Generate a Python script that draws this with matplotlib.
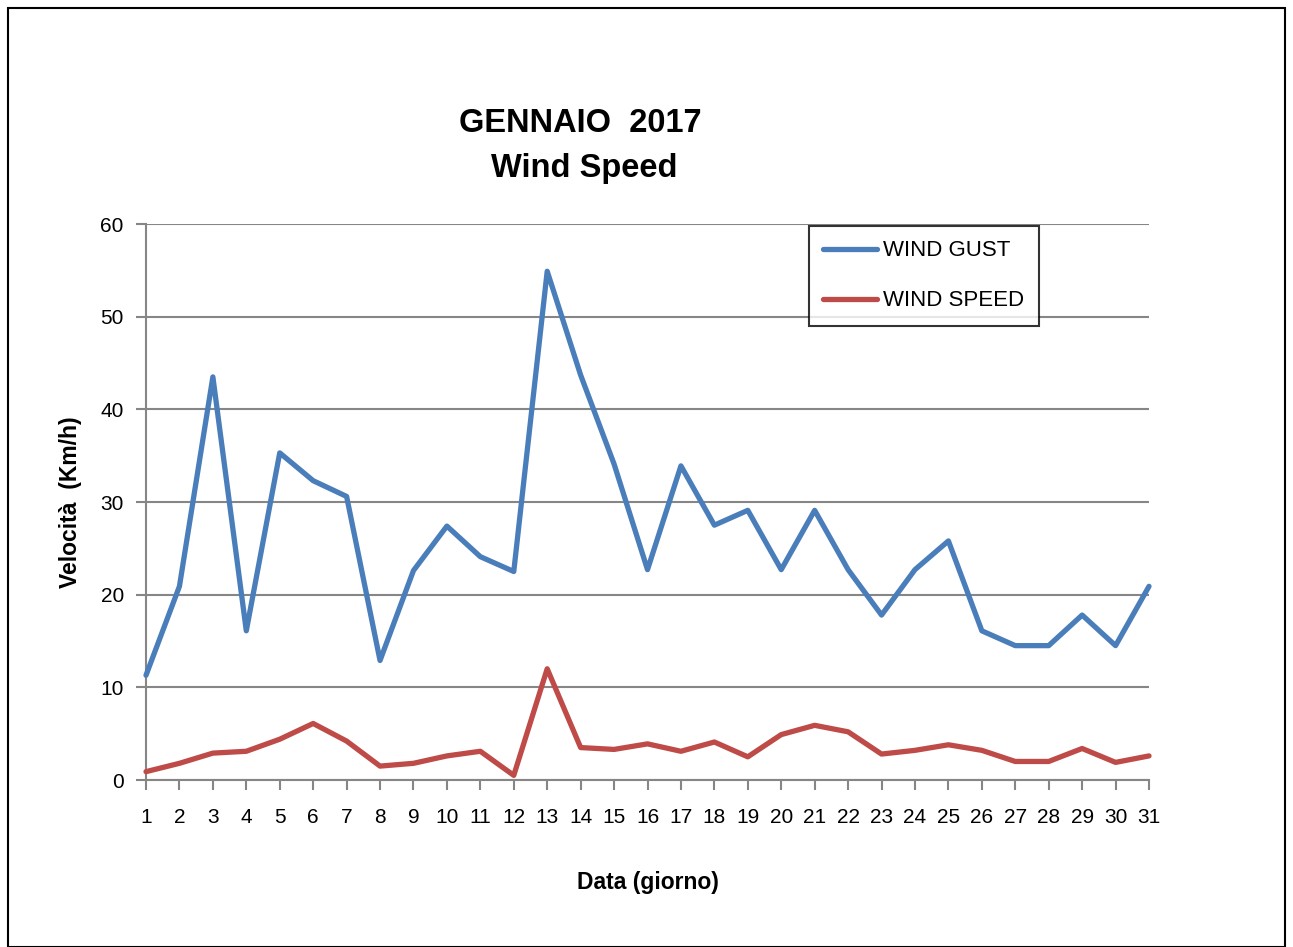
import matplotlib.pyplot as plt
import numpy as np
from matplotlib.patches import Rectangle

# dati gennaio 2017
giorni = np.arange(1, 32)
wind_gust = [11.3, 20.9, 43.5, 16.1, 35.3, 32.3, 30.6, 12.9, 22.6, 27.4,
             24.1, 22.5, 54.9, 43.7, 34.1, 22.7, 33.9, 27.5, 29.1, 22.7,
             29.1, 22.7, 17.8, 22.7, 25.8, 16.1, 14.5, 14.5, 17.8, 14.5, 20.9]
wind_speed = [0.9, 1.8, 2.9, 3.1, 4.4, 6.1, 4.2, 1.5, 1.8, 2.6,
              3.1, 0.5, 12.0, 3.5, 3.3, 3.9, 3.1, 4.1, 2.5, 4.9,
              5.9, 5.2, 2.8, 3.2, 3.8, 3.2, 2.0, 2.0, 3.4, 1.9, 2.6]
y_ticks = [0, 10, 20, 30, 40, 50, 60]

plt.rcParams['font.family'] = ['Liberation Sans', 'DejaVu Sans']

fig = plt.figure(figsize=(12.93, 9.47), dpi=100)
ax = fig.add_axes([146/1293, 1-780/947, 1003/1293, 556/947])

ax.plot(giorni, wind_gust, color='#4A7EBB', lw=3.8, label='WIND GUST',
        solid_joinstyle='round', solid_capstyle='round', clip_on=False, zorder=3)
ax.plot(giorni, wind_speed, color='#BE4B48', lw=3.8, label='WIND SPEED',
        solid_joinstyle='round', solid_capstyle='round', clip_on=False, zorder=3)

ax.set_xlim(1, 31)
ax.set_ylim(0, 60)
ax.set_xticks(giorni)
ax.set_yticks(y_ticks)
ax.grid(axis='y', color='#868686', lw=1.5)
ax.set_axisbelow(True)
for s in ['top', 'right']:
    ax.spines[s].set_visible(False)
for s in ['left', 'bottom']:
    ax.spines[s].set_color('#868686')
    ax.spines[s].set_linewidth(1.5)
ax.tick_params(axis='both', direction='out', length=7, width=1.5,
               color='#868686', labelsize=15)
ax.tick_params(axis='x', pad=13)
ax.tick_params(axis='y', pad=9)

ax.set_xlabel('Data (giorno)', fontsize=16.5, fontweight='bold', labelpad=32)
ax.set_ylabel('Velocità  (Km/h)', fontsize=16.5, fontweight='bold', labelpad=13)

fig.text(580/1293, 1-123/947, 'GENNAIO  2017', ha='center', va='center',
         fontsize=23.5, fontweight='bold')
fig.text(584/1293, 1-168/947, 'Wind Speed', ha='center', va='center',
         fontsize=23.5, fontweight='bold')

leg = ax.legend(loc='upper left', bbox_to_anchor=(809/1293, 1-226/947),
                bbox_transform=fig.transFigure, fontsize=16, frameon=True,
                fancybox=False, edgecolor='black', handlelength=2.4,
                labelspacing=1.3, borderpad=0.65, handletextpad=0.3,
                borderaxespad=0)
leg.get_frame().set_linewidth(1.5)

# cornice esterna
fig.patches.append(Rectangle((8/1293, 0), 1277/1293, 1-8/947, transform=fig.transFigure,
                             fill=False, edgecolor='black', lw=1.5))

fig.savefig('out.png', dpi=100)
